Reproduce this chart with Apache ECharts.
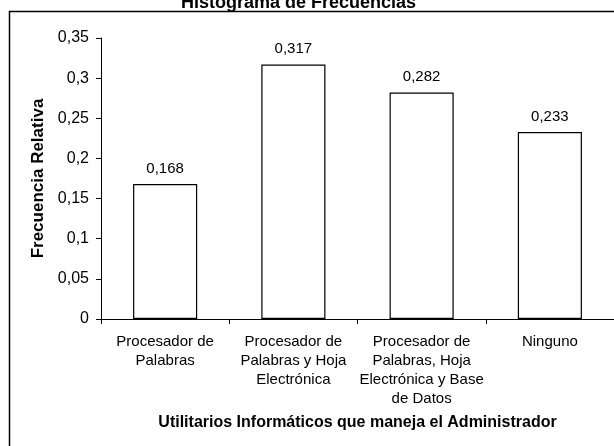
<!DOCTYPE html>
<html>
<head>
<meta charset="utf-8">
<script src="https://cdn.jsdelivr.net/npm/echarts@6/dist/echarts.min.js"></script>
<style>
  html, body { margin: 0; padding: 0; background: #fff; }
  #chart { width: 614px; height: 446px; }
</style>
</head>
<body>
<div id="chart"></div>
<script>
const categories = [
  'Procesador de\nPalabras',
  'Procesador de\nPalabras y Hoja\nElectrónica',
  'Procesador de\nPalabras, Hoja\nElectrónica y Base\nde Datos',
  'Ninguno'
]
const frecuencias = [0.168, 0.317, 0.282, 0.233]
const yTicks = [0, 0.05, 0.1, 0.15, 0.2, 0.25, 0.3, 0.35]

const font = 'Liberation Sans, Arial, sans-serif'
const coma = v => String(v).replace('.', ',')

const chart = echarts.init(document.getElementById('chart'), null, { renderer: 'canvas' })

chart.setOption({
  animation: false,
  textStyle: { fontFamily: font, color: '#000' },
  title: {
    text: 'Histograma de Frecuencias',
    left: 176,
    top: -11,
    textStyle: { fontFamily: font, fontSize: 18, fontWeight: 'bold', color: '#000' }
  },
  graphic: [{
    type: 'rect',
    shape: { x: 9.5, y: 11.5, width: 700, height: 500 },
    style: { fill: 'none', stroke: '#000', lineWidth: 1.5 },
    silent: true
  }],
  grid: {
    left: 101,
    right: 0,
    top: 38,
    bottom: 127,
    containLabel: false
  },
  xAxis: {
    type: 'category',
    data: categories,
    name: 'Utilitarios Informáticos que maneja el Administrador',
    nameLocation: 'middle',
    nameGap: 96,
    nameTextStyle: { fontFamily: font, fontSize: 16, fontWeight: 'bold', color: '#000' },
    axisLine: { lineStyle: { color: '#000', width: 1 } },
    axisTick: { show: true, length: 5, lineStyle: { color: '#000' } },
    axisLabel: {
      interval: 0,
      margin: 13,
      fontFamily: font,
      fontSize: 15,
      lineHeight: 19,
      color: '#000'
    }
  },
  yAxis: {
    type: 'value',
    min: yTicks[0],
    max: yTicks[yTicks.length - 1],
    interval: 0.05,
    name: 'Frecuencia Relativa',
    nameLocation: 'middle',
    nameGap: 50,
    nameTextStyle: { fontFamily: font, fontSize: 17, fontWeight: 'bold', color: '#000' },
    axisLine: { show: true, lineStyle: { color: '#000', width: 1 } },
    axisTick: { show: true, length: 5, lineStyle: { color: '#000' } },
    splitLine: { show: false },
    axisLabel: {
      margin: 12,
      fontFamily: font,
      fontSize: 16,
      color: '#000',
      formatter: v => coma(+v.toFixed(2))
    }
  },
  series: [{
    type: 'bar',
    data: frecuencias,
    barWidth: '50%',
    itemStyle: { color: '#fff', borderColor: '#000', borderWidth: 1.2 },
    label: {
      show: true,
      position: 'top',
      distance: 8,
      fontFamily: font,
      fontSize: 15,
      color: '#000',
      formatter: p => coma(p.value)
    }
  }]
})
</script>
</body>
</html>
